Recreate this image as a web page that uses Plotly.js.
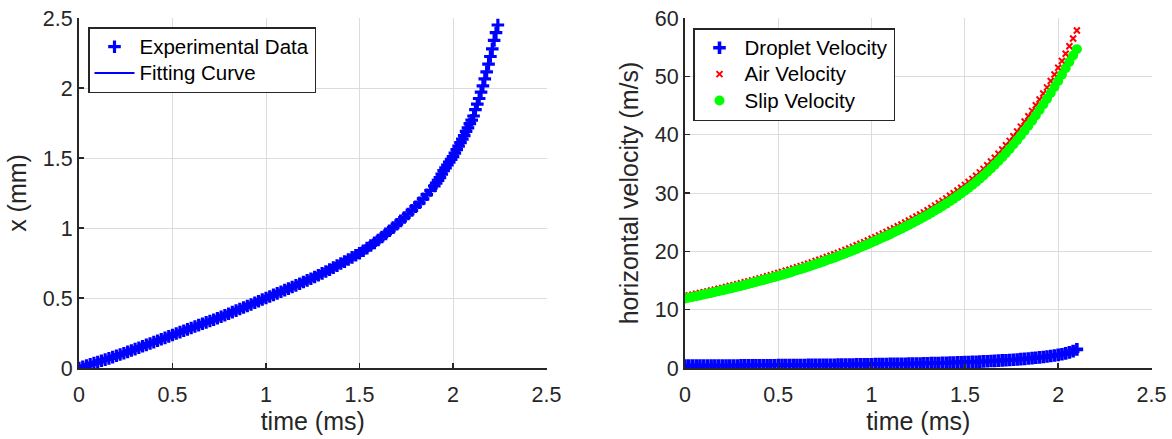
<!DOCTYPE html>
<html>
<head>
<meta charset="utf-8">
<script src="https://cdn.plot.ly/plotly-3.0.1.min.js"></script>
<style>
html,body{margin:0;padding:0;background:#fff;}
#chart{width:1172px;height:439px;}
</style>
</head>
<body>
<div id="chart"></div>
<script>
// ---------- Left panel: droplet displacement ----------
const expTime = [
0.00,0.02,0.04,0.06,0.08,0.10,0.12,0.14,0.16,0.18,
0.20,0.22,0.24,0.26,0.28,0.30,0.32,0.34,0.36,0.38,
0.40,0.42,0.44,0.46,0.48,0.50,0.52,0.54,0.56,0.58,
0.60,0.62,0.64,0.66,0.68,0.70,0.72,0.74,0.76,0.78,
0.80,0.82,0.84,0.86,0.88,0.90,0.92,0.94,0.96,0.98,
1.00,1.02,1.04,1.06,1.08,1.10,1.12,1.14,1.16,1.18,
1.20,1.22,1.24,1.26,1.28,1.30,1.32,1.34,1.36,1.38,
1.40,1.42,1.44,1.46,1.48,1.50,1.52,1.54,1.56,1.58,
1.60,1.62,1.64,1.66,1.68,1.70,1.72,1.74,1.76,1.78,
1.80,1.82,1.84,1.86,1.88,
1.90,1.91,1.92,1.93,1.94,1.95,1.96,1.97,1.98,1.99,
2.00,2.01,2.02,2.03,2.04,2.05,2.06,2.07,2.08,2.09,
2.10,2.11,2.12,2.13,2.14,2.15,2.16,2.17,2.18,2.19,
2.20,2.21,2.22,2.23,2.24
];
const expX = [
0.000,0.008,0.017,0.026,0.035,0.043,0.052,0.060,0.069,0.078,
0.087,0.096,0.105,0.115,0.125,0.135,0.145,0.155,0.165,0.175,
0.185,0.195,0.205,0.215,0.226,0.236,0.246,0.256,0.266,0.276,
0.286,0.296,0.306,0.316,0.326,0.336,0.345,0.355,0.366,0.377,
0.388,0.399,0.410,0.421,0.432,0.443,0.454,0.466,0.477,0.489,
0.500,0.511,0.522,0.533,0.545,0.556,0.567,0.579,0.590,0.602,
0.614,0.626,0.638,0.650,0.663,0.676,0.689,0.703,0.717,0.731,
0.746,0.760,0.775,0.790,0.805,0.820,0.838,0.856,0.875,0.894,
0.914,0.936,0.958,0.980,1.003,1.027,1.051,1.075,1.100,1.126,
1.152,1.180,1.208,1.238,1.268,
1.300,1.320,1.340,1.360,1.385,1.410,1.430,1.450,1.470,1.490,
1.510,1.535,1.560,1.585,1.610,1.635,1.660,1.690,1.715,1.745,
1.770,1.800,1.845,1.885,1.925,1.970,2.015,2.065,2.115,2.170,
2.225,2.280,2.340,2.395,2.450
];
const fitTime = [0,0.1,0.2,0.3,0.4,0.5,0.6,0.7,0.8,0.9,1.0,1.1,1.2,1.3,1.4,1.5,1.6,1.7,1.8,1.85,1.9,1.95,2.0,2.05,2.1,2.15,2.2,2.24];
const fitX = [0,0.043,0.087,0.135,0.185,0.236,0.286,0.336,0.388,0.443,0.500,0.556,0.614,0.676,0.746,0.820,0.914,1.027,1.152,1.223,1.300,1.410,1.510,1.635,1.770,1.970,2.225,2.450];

// ---------- Right panel: horizontal velocities ----------
const velTime = [
0.00,0.02,0.04,0.06,0.08,0.10,0.12,0.14,0.16,0.18,
0.20,0.22,0.24,0.26,0.28,0.30,0.32,0.34,0.36,0.38,
0.40,0.42,0.44,0.46,0.48,0.50,0.52,0.54,0.56,0.58,
0.60,0.62,0.64,0.66,0.68,0.70,0.72,0.74,0.76,0.78,
0.80,0.82,0.84,0.86,0.88,0.90,0.92,0.94,0.96,0.98,
1.00,1.02,1.04,1.06,1.08,1.10,1.12,1.14,1.16,1.18,
1.20,1.22,1.24,1.26,1.28,1.30,1.32,1.34,1.36,1.38,
1.40,1.42,1.44,1.46,1.48,1.50,1.52,1.54,1.56,1.58,
1.60,1.62,1.64,1.66,1.68,1.70,1.72,1.74,1.76,1.78,
1.80,1.82,1.84,1.86,1.88,1.90,1.92,1.94,1.96,1.98,
2.00,2.02,2.04,2.06,2.08,2.10
];
const dropletVel = [
0.40,0.40,0.40,0.41,0.41,0.41,0.42,0.42,0.42,0.43,
0.43,0.43,0.44,0.44,0.44,0.45,0.45,0.45,0.46,0.46,
0.47,0.47,0.47,0.48,0.48,0.49,0.49,0.50,0.50,0.51,
0.51,0.52,0.52,0.53,0.53,0.54,0.54,0.55,0.56,0.56,
0.57,0.58,0.58,0.59,0.60,0.61,0.62,0.62,0.63,0.64,
0.65,0.66,0.67,0.68,0.69,0.70,0.71,0.72,0.73,0.74,
0.75,0.76,0.77,0.78,0.80,0.81,0.83,0.84,0.86,0.88,
0.90,0.92,0.94,0.96,0.98,1.00,1.02,1.05,1.07,1.10,
1.13,1.16,1.19,1.22,1.26,1.30,1.34,1.38,1.42,1.47,
1.52,1.57,1.63,1.69,1.75,1.82,1.89,1.97,2.06,2.15,
2.25,2.36,2.50,2.68,2.90,3.20
];
const airVel = [
12.30,12.44,12.58,12.72,12.86,13.00,13.14,13.29,13.44,13.59,
13.74,13.89,14.05,14.20,14.36,14.52,14.69,14.85,15.02,15.19,
15.37,15.54,15.72,15.90,16.09,16.28,16.46,16.66,16.85,17.06,
17.26,17.47,17.68,17.89,18.11,18.33,18.56,18.78,19.02,19.25,
19.49,19.74,19.99,20.24,20.50,20.77,21.03,21.31,21.58,21.86,
22.15,22.44,22.74,23.04,23.34,23.65,23.97,24.29,24.61,24.94,
25.28,25.62,25.96,26.32,26.68,27.05,27.43,27.83,28.23,28.65,
29.08,29.52,29.97,30.43,30.91,31.39,31.89,32.42,32.96,33.54,
34.13,34.75,35.39,36.05,36.74,37.45,38.18,38.94,39.72,40.53,
41.38,42.25,43.15,44.08,45.04,46.04,47.06,48.11,49.20,50.31,
51.46,52.64,53.88,55.16,56.48,57.86
];
const slipVel = [
11.90,12.04,12.18,12.31,12.45,12.59,12.72,12.87,13.02,13.16,
13.31,13.46,13.61,13.76,13.92,14.07,14.24,14.40,14.56,14.73,
14.90,15.07,15.25,15.42,15.61,15.79,15.97,16.16,16.35,16.55,
16.75,16.95,17.16,17.36,17.58,17.79,18.02,18.23,18.46,18.69,
18.92,19.16,19.41,19.65,19.90,20.16,20.41,20.69,20.95,21.22,
21.50,21.78,22.07,22.36,22.65,22.95,23.26,23.57,23.88,24.20,
24.53,24.86,25.19,25.54,25.88,26.24,26.60,26.99,27.37,27.77,
28.18,28.60,29.03,29.47,29.93,30.39,30.87,31.37,31.89,32.44,
33.00,33.59,34.20,34.83,35.48,36.15,36.84,37.56,38.30,39.06,
39.86,40.68,41.52,42.39,43.29,44.22,45.17,46.14,47.14,48.16,
49.21,50.28,51.38,52.48,53.58,54.66
];

const xTickVals = [0,0.5,1,1.5,2,2.5];
const xTickText = ['0','0.5','1','1.5','2','2.5'];
const yLeftTickVals = [0,0.5,1,1.5,2,2.5];
const yLeftTickText = ['0','0.5','1','1.5','2','2.5'];
const yRightTickVals = [0,10,20,30,40,50,60];
const yRightTickText = ['0','10','20','30','40','50','60'];

const FONT = 'Liberation Sans, Arial, Helvetica, sans-serif';
const TXT = '#262626';
const big = s => '<span style="font-size:20.5px">' + s + '</span>';

const traces = [
  {x: fitTime, y: fitX, mode:'lines', name:big('Fitting Curve'), line:{color:'#0000ff', width:2, shape:'spline'},
   xaxis:'x', yaxis:'y', legend:'legend', legendrank:2},
  {x: expTime, y: expX, mode:'markers', name:big('Experimental Data'),
   marker:{symbol:'cross-thin-open', size:9, color:'#0000ff', line:{color:'#0000ff', width:3.2}},
   xaxis:'x', yaxis:'y', legend:'legend', legendrank:1},
  {x: velTime, y: dropletVel, mode:'markers', name:big('Droplet Velocity'),
   marker:{symbol:'cross-thin-open', size:9, color:'#0000ff', line:{color:'#0000ff', width:3.6}},
   xaxis:'x2', yaxis:'y2', legend:'legend2'},
  {x: velTime, y: airVel, mode:'markers', name:big('Air Velocity'),
   marker:{symbol:'x-thin-open', size:6, color:'#ff0000', line:{color:'#ff0000', width:2}},
   xaxis:'x2', yaxis:'y2', legend:'legend2'},
  {x: velTime, y: slipVel, mode:'markers', name:big('Slip Velocity'),
   marker:{symbol:'circle', size:10, color:'#00ff00', line:{width:0}},
   xaxis:'x2', yaxis:'y2', legend:'legend2'}
];

function xAxis(domain, anchor){
  return {domain:domain, anchor:anchor, range:[0,2.5], tickmode:'array', tickvals:xTickVals, ticktext:xTickText,
    ticks:'inside', ticklen:5, tickwidth:1.5, tickcolor:TXT, showline:true, linecolor:TXT, linewidth:2,
    showgrid:true, gridcolor:'#dcdcdc', gridwidth:1, zeroline:false, fixedrange:true, ticklabelstandoff:6,
    tickfont:{family:FONT, size:21.5, color:TXT},
    title:{text:'time (ms)', font:{family:FONT, size:25, color:TXT}, standoff:7}};
}
function yAxis(domain, anchor, range, vals, text, title){
  return {domain:domain, anchor:anchor, range:range, tickmode:'array', tickvals:vals, ticktext:text,
    ticks:'inside', ticklen:5, tickwidth:1.5, tickcolor:TXT, showline:true, linecolor:TXT, linewidth:2,
    showgrid:true, gridcolor:'#dcdcdc', gridwidth:1, zeroline:false, fixedrange:true,
    tickfont:{family:FONT, size:21.5, color:TXT},
    title:{text:title, font:{family:FONT, size:25, color:TXT}, standoff:9}};
}

const yDom = [1-368/439, 1-18/439];
const layout = {
  width:1172, height:439,
  margin:{l:0, r:0, t:0, b:0, pad:0},
  paper_bgcolor:'#ffffff', plot_bgcolor:'#ffffff',
  font:{family:FONT, color:TXT},
  showlegend:true,
  xaxis: xAxis([79/1172, 546.5/1172], 'y'),
  yaxis: yAxis(yDom, 'x', [0,2.5], yLeftTickVals, yLeftTickText, 'x (mm)'),
  xaxis2: xAxis([685/1172, 1151.5/1172], 'y2'),
  yaxis2: yAxis(yDom, 'x2', [0,60], yRightTickVals, yRightTickText, 'horizontal velocity (m/s)'),
  legend:{x:88/1172, y:1-27/439, xanchor:'left', yanchor:'top', bgcolor:'#ffffff', bordercolor:TXT, borderwidth:1.5,
    font:{family:FONT, size:18, color:'#000000'}, itemwidth:40, tracegroupgap:0, traceorder:'normal'},
  legend2:{x:693/1172, y:1-28/439, xanchor:'left', yanchor:'top', bgcolor:'#ffffff', bordercolor:TXT, borderwidth:1.5,
    font:{family:FONT, size:18, color:'#000000'}, itemwidth:40, tracegroupgap:0, traceorder:'normal'}
};

Plotly.newPlot('chart', traces, layout, {displayModeBar:false, staticPlot:true});
</script>
</body>
</html>
